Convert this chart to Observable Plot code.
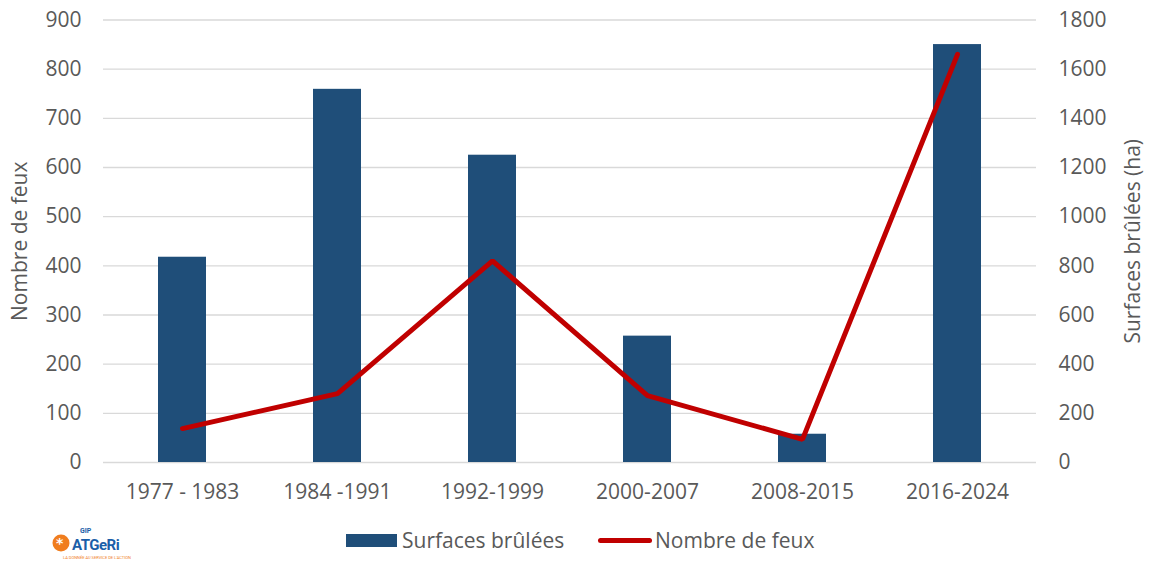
<!DOCTYPE html>
<html><head><meta charset="utf-8">
<script src="https://cdn.jsdelivr.net/npm/d3@7"></script>
<script src="https://cdn.jsdelivr.net/npm/@observablehq/plot@0.6"></script>
<style>
body{margin:0;background:#fff;font-family:"Open Sans",sans-serif;}
#wrap{position:relative;width:1151px;}
#legend{position:relative;height:41px;width:1151px;color:#595959;font-size:21px;}
.lg{position:absolute;top:10px;display:flex;align-items:center;line-height:1;}
</style></head>
<body><div id="wrap"><div id="chart"></div>
<div id="legend">
  <div class="lg" style="left:346px"><span style="display:inline-block;width:51px;height:13px;background:#1f4e79;margin-right:5px"></span>Surfaces brûlées</div>
  <div class="lg" style="left:598px"><span style="display:inline-block;width:54px;height:5px;background:#c00000;border-radius:3px;margin-right:3px"></span>Nombre de feux</div>
  <svg style="position:absolute;left:50px;top:0px" width="90" height="41">
    <circle cx="11" cy="23" r="8.5" fill="#f07d1e"/>
    <text x="6" y="28" font-size="14" font-weight="bold" fill="#fff" font-family="DejaVu Sans">*</text>
    <text x="30" y="13" font-size="7" font-weight="bold" fill="#1b5ea8" font-family="Roboto">GIP</text>
    <text x="22" y="30" font-size="15" font-weight="bold" fill="#1b5ea8" font-family="Roboto" letter-spacing="-0.5">ATGeRi</text>
    <text x="13" y="38.5" font-size="4" fill="#f07d1e" font-family="Roboto">LA DONNÉE AU SERVICE DE L'ACTION</text>
  </svg>
</div></div>
<script>
const periodes = ["1977 - 1983","1984 -1991","1992-1999","2000-2007","2008-2015","2016-2024"];
const surfaces = [835, 1518, 1250, 514, 115, 1700];   // axe de droite (ha)
const feux = [69, 140, 410, 136, 47, 830];             // axe de gauche
const leftTicks = [0,100,200,300,400,500,600,700,800,900];

const data = periodes.map((p,i)=>({p, s: surfaces[i], f: feux[i]}));
const fs = 21;
const chart = Plot.plot({
  width: 1151, height: 520,
  marginLeft: 103, marginRight: 115, marginTop: 19.5, marginBottom: 58,
  style: {fontFamily: "'Open Sans', sans-serif", fontSize: fs+"px", color: "#595959", background: "#fff"},
  x: {domain: periodes, paddingInner: 0.69, paddingOuter: 0.345, label: null},
  y: {domain: [0, 900], label: null},
  marks: [
    Plot.gridY(leftTicks, {stroke: "#d9d9d9", strokeOpacity: 1, strokeWidth: 1.3}),
    Plot.barY(data, {x: "p", y: d => d.s / 2, fill: "#1f4e79"}),
    Plot.line(data, {x: "p", y: "f", stroke: "#c00000", strokeWidth: 5, strokeLinejoin: "miter", strokeLinecap: "round"}),
    Plot.axisX({tickSize: 0, tickPadding: 22, fontSize: fs, fill: "#595959", label: null}),
    Plot.axisY(leftTicks, {anchor: "left", tickSize: 0, tickPadding: 22, fontSize: fs, fill: "#595959", label: null}),
    Plot.axisY(leftTicks, {anchor: "right", tickSize: 0, tickPadding: 22, fontSize: fs, fill: "#595959", tickFormat: d => String(d*2), label: null}),
    Plot.text(["Nombre de feux"], {frameAnchor: "left", dx: -83, rotate: -90, textAnchor: "middle", fontSize: 21, fill: "#595959", text: d => d}),
    Plot.text(["Surfaces brûlées (ha)"], {frameAnchor: "right", dx: 97, rotate: -90, textAnchor: "middle", fontSize: 21, fill: "#595959", text: d => d})
  ]
});
document.getElementById("chart").appendChild(chart);
</script></body></html>
